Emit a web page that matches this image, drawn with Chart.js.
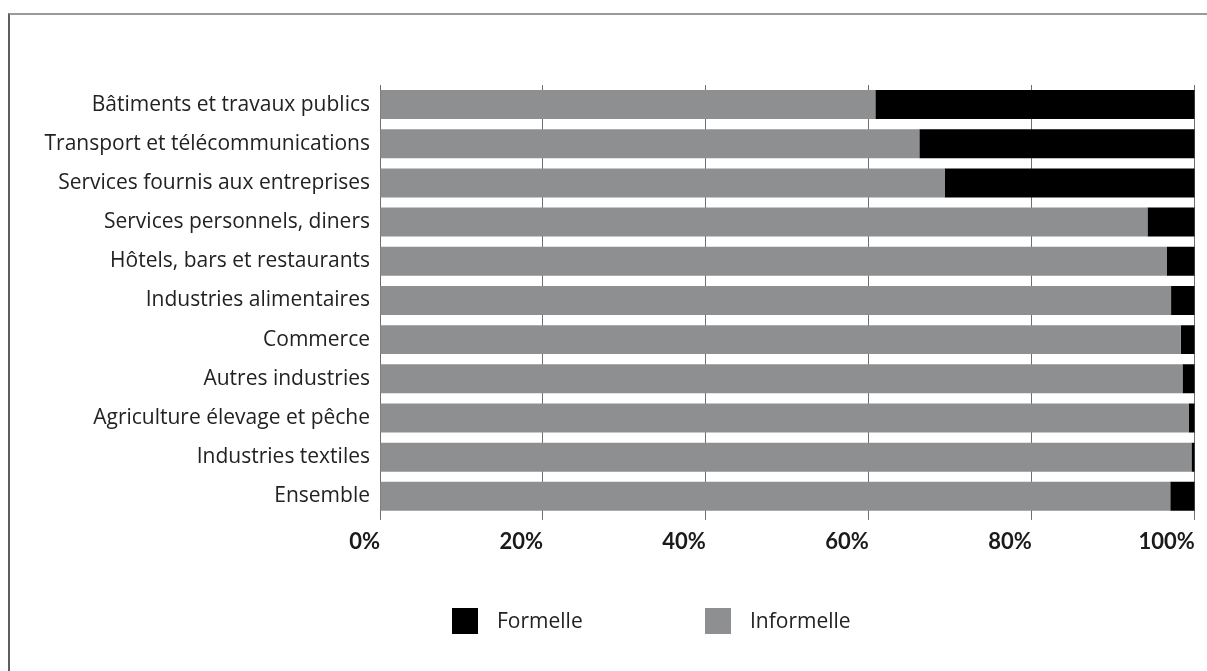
<!DOCTYPE html>
<html>
<head>
<meta charset="utf-8">
<script src="https://cdn.jsdelivr.net/npm/chart.js@4"></script>
<style>
  html, body { margin: 0; padding: 0; background: #fff; overflow: hidden; }
  #wrap { position: relative; width: 1207px; height: 671px; }
  #frame { position: absolute; left: 8px; top: 13px; width: 1300px; height: 800px;
           border-top: 2px solid #9a9a9a; border-left: 2px solid #5e5e5e; pointer-events: none; }
  canvas { position: absolute; left: 0; top: 0; }
</style>
</head>
<body>
<div id="wrap">
  <canvas id="c" width="1207" height="671"></canvas>
  <div id="frame"></div>
</div>
<script>
const categories = [
  "Bâtiments et travaux publics",
  "Transport et télécommunications",
  "Services fournis aux entreprises",
  "Services personnels, diners",
  "Hôtels, bars et restaurants",
  "Industries alimentaires",
  "Commerce",
  "Autres industries",
  "Agriculture élevage et pêche",
  "Industries textiles",
  "Ensemble"
];
const informelle = [60.8, 66.2, 69.3, 94.2, 96.6, 97.1, 98.3, 98.5, 99.3, 99.6, 97.0];
const formelle   = [39.2, 33.8, 30.7, 5.8, 3.4, 2.9, 1.7, 1.5, 0.7, 0.4, 3.0];
const xTickLabels = ["0%", "20%", "40%", "60%", "80%", "100%"];
const seriesNames = ["Informelle", "Formelle"];

const GRAY = "#8e8f91";
const BLACK = "#000000";

const legendPlugin = {
  id: "customLegend",
  afterDraw(chart) {
    const ctx = chart.ctx;
    const order = [1, 0];
    const xs = [452, 705];
    ctx.save();
    ctx.font = "21px 'Open Sans'";
    ctx.textBaseline = "middle";
    ctx.textAlign = "left";
    order.forEach((di, k) => {
      const ds = chart.data.datasets[di];
      ctx.fillStyle = ds.backgroundColor;
      ctx.fillRect(xs[k], 608, 26, 26);
      ctx.fillStyle = "#222";
      ctx.fillText(ds.label, xs[k] + 45, 622);
    });
    ctx.restore();
  }
};

new Chart(document.getElementById("c"), {
  type: "bar",
  data: {
    labels: categories,
    datasets: [
      { label: seriesNames[0], data: informelle, backgroundColor: GRAY, borderWidth: 0 },
      { label: seriesNames[1], data: formelle, backgroundColor: BLACK, borderWidth: 0 }
    ]
  },
  options: {
    indexAxis: "y",
    responsive: false,
    animation: false,
    devicePixelRatio: 1,
    layout: { padding: { top: 85, right: 12.3, bottom: 0, left: 0 } },
    plugins: { legend: { display: false }, tooltip: { enabled: false } },
    datasets: { bar: { barPercentage: 0.74, categoryPercentage: 1 } },
    scales: {
      x: {
        stacked: true,
        min: 0, max: 100,
        grid: { color: "#6e6e6e", lineWidth: 1, tickLength: 4, tickColor: "#6e6e6e", drawTicks: true },
        border: { display: false },
        ticks: {
          stepSize: 20,
          align: "end",
          padding: 9,
          color: "#1a1a1a",
          font: { family: "Lato", size: 22, weight: "bold" },
          callback: (v, i) => xTickLabels[i]
        },
        afterFit(scale) {
          scale.height = 671 - 515.9;
          scale.paddingLeft = 0;
          scale.paddingRight = 0;
        }
      },
      y: {
        stacked: true,
        grid: { display: false, drawTicks: false, tickLength: 0 },
        border: { display: false },
        ticks: {
          padding: 10,
          color: "#222",
          font: { family: "Open Sans", size: 21 }
        },
        afterFit(scale) {
          scale.width = 380;
        }
      }
    }
  },
  plugins: [legendPlugin]
});
</script>
</body>
</html>
